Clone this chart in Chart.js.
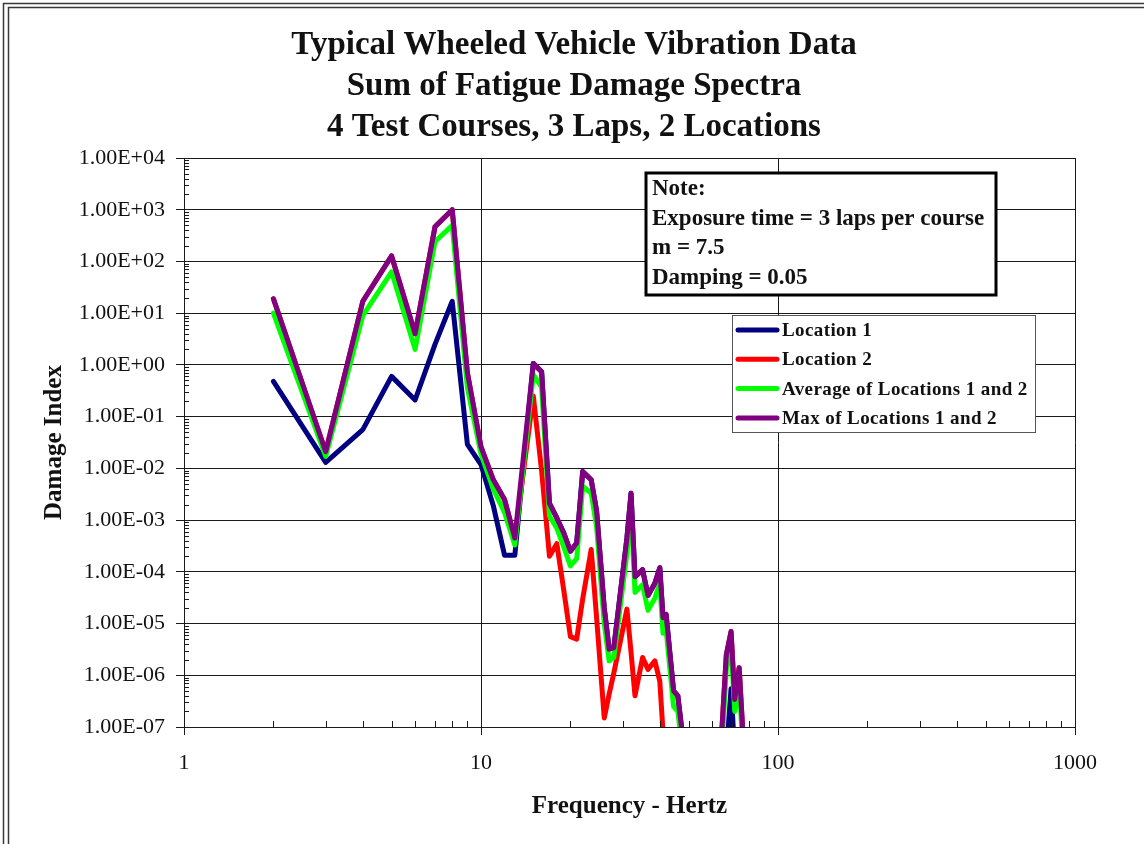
<!DOCTYPE html>
<html>
<head>
<meta charset="utf-8">
<title>Typical Wheeled Vehicle Vibration Data</title>
<script src="https://cdn.jsdelivr.net/npm/chart.js@4/dist/chart.umd.min.js"></script>
<style>
  html, body { margin: 0; padding: 0; background: #fff; }
  canvas { display: block; }
</style>
</head>
<body>
<canvas id="fds" width="1144" height="844"></canvas>
<script>
// ---- Data: fatigue damage spectra (damage index vs. frequency in Hz) ----
const frequencyHz = [2, 3, 4, 5, 6, 7, 8, 9, 10, 11, 12, 13, 15, 16, 17, 18, 19, 20, 21, 22,
  23.5, 24.5, 26, 27, 28, 31, 32, 33, 35, 36.5, 38.5, 40, 41, 42, 44.5, 46, 48, 50, 63, 64,
  67, 69.5, 71.5, 74, 76.5, 80];

const location1 = [0.48, 0.013, 0.056, 0.6, 0.21, 2.5, 17, 0.029, 0.0118, 0.0019,
  2.1e-4, 2.1e-4, 1.07, 0.74, 0.0021, 0.0011, 5.6e-4, 2.5e-4, 3.6e-4, 0.0087,
  0.006, 0.0015, 2e-5, 3.2e-6, 3.4e-6, 4.5e-4, 0.0033, 8e-5, 1.1e-4, 3.5e-5,
  6e-5, 1.2e-4, 1.3e-5, 1.5e-5, 5e-7, 4e-7, 5e-8, 1e-10, 1e-10, 1e-10,
  3e-8, 5.5e-7, 3e-8, 1e-10, 1e-10, 1e-10];

const location2 = [19, 0.021, 17, 128, 4, 470, 1000, 0.7, 0.026, 0.006,
  0.0025, 4.5e-4, 0.25, 0.009, 2e-4, 3.5e-4, 4.4e-5, 5.6e-6, 5e-6, 3e-5,
  2.7e-4, 1.3e-5, 1.5e-7, 4.3e-7, 1.1e-6, 1.9e-5, 2.8e-6, 4e-7, 2.2e-6, 1.3e-6,
  1.9e-6, 7.6e-7, 8e-8, 5e-8, 1e-10, 1e-10, 1e-10, 1e-10, 1e-10, 3e-8,
  2.5e-6, 7e-6, 3.4e-7, 1.4e-6, 5e-8, 1e-10];

const averageOfLocations = [10, 0.017, 9, 63, 2, 240, 500, 0.36, 0.019, 0.004,
  0.0014, 3.3e-4, 0.65, 0.37, 0.0012, 7e-4, 3e-4, 1.3e-4, 1.8e-4, 0.0045,
  0.0033, 7.5e-4, 1e-5, 1.9e-6, 2.2e-6, 2.3e-4, 0.0017, 4e-5, 5.6e-5, 1.8e-5,
  3.1e-5, 6e-5, 6.5e-6, 7.5e-6, 2.5e-7, 2e-7, 2.5e-8, 1e-10, 1e-10, 1.5e-8,
  1.3e-6, 3.8e-6, 2e-7, 7e-7, 2.5e-8, 1e-10];

const maxOfLocations = [19, 0.021, 17, 128, 4, 470, 1000, 0.7, 0.026, 0.006,
  0.0025, 4.5e-4, 1.07, 0.74, 0.0021, 0.0011, 5.6e-4, 2.5e-4, 3.6e-4, 0.0087,
  0.006, 0.0015, 2e-5, 3.2e-6, 3.4e-6, 4.5e-4, 0.0033, 8e-5, 1.1e-4, 3.5e-5,
  6e-5, 1.2e-4, 1.3e-5, 1.5e-5, 5e-7, 4e-7, 5e-8, 1e-10, 1e-10, 3e-8,
  2.5e-6, 7e-6, 3.4e-7, 1.4e-6, 5e-8, 1e-10];

const seriesNames = ['Location 1', 'Location 2', 'Average of Locations 1 and 2', 'Max of Locations 1 and 2'];
const seriesColors = ['#000080', '#ff0000', '#00ff00', '#800080'];

const xTickValues = [1, 10, 100, 1000];
const yTickValues = [1e-7, 1e-6, 1e-5, 1e-4, 1e-3, 1e-2, 1e-1, 1, 10, 100, 1000, 10000];

const titleLines = ['Typical Wheeled Vehicle Vibration Data', 'Sum of Fatigue Damage Spectra', '4 Test Courses, 3 Laps, 2 Locations'];
const noteLines = ['Note:', 'Exposure time = 3 laps per course', 'm = 7.5', 'Damping = 0.05'];

// ---- Styling ----
const SERIF = "'Liberation Serif', 'Times New Roman', Times, serif";
const INK = '#1a1a1a';

function sciLabel(v) {
  const e = Math.round(Math.log10(v));
  const mant = (v / Math.pow(10, e)).toFixed(2);
  return mant + 'E' + (e < 0 ? '-' : '+') + String(Math.abs(e)).padStart(2, '0');
}

function toPoints(values) {
  return frequencyHz.map((f, i) => ({ x: f, y: values[i] }));
}

const allSeries = [location1, location2, averageOfLocations, maxOfLocations];
const datasets = allSeries.map((vals, i) => ({
  label: seriesNames[i],
  data: toPoints(vals),
  borderColor: seriesColors[i],
  backgroundColor: seriesColors[i],
  borderWidth: 5,
  pointRadius: 0,
  tension: 0,
  borderJoinStyle: 'round',
  borderCapStyle: 'round',
  clip: 0,
  // Max is painted last (on top), Location 1 first
  order: 4 - i
}));

// Page frame (double rule along the top and left edges) and the three-line heading
const framePlugin = {
  id: 'pageFrame',
  beforeDraw(chart, args, opts) {
    const c = chart.ctx;
    c.save();
    c.fillStyle = '#fff';
    c.fillRect(0, 0, chart.width, chart.height);
    c.strokeStyle = '#3a3a3a';
    c.lineWidth = 1.5;
    c.beginPath();
    c.moveTo(3.5, chart.height); c.lineTo(3.5, 3.5); c.lineTo(chart.width, 3.5);
    c.moveTo(8.5, chart.height); c.lineTo(8.5, 7.5); c.lineTo(chart.width, 7.5);
    c.stroke();

    c.fillStyle = '#111';
    c.font = 'bold 33px ' + SERIF;
    c.textAlign = 'center';
    c.textBaseline = 'middle';
    titleLines.forEach((t, i) => c.fillText(t, opts.cx, opts.firstY + i * opts.row));
    c.restore();
  }
};

// Minor log ticks drawn on the inside of both axes
const minorTickPlugin = {
  id: 'minorTicks',
  afterDatasetsDraw(chart) {
    const { ctx: c, chartArea: a, scales: { x, y } } = chart;
    c.save();
    c.strokeStyle = INK;
    c.lineWidth = 1;
    c.beginPath();
    for (let d = -7; d < 4; d++) {
      for (let m = 2; m <= 9; m++) {
        const py = Math.round(y.getPixelForValue(m * Math.pow(10, d))) + 0.5;
        c.moveTo(a.left, py); c.lineTo(a.left + 5, py);
      }
    }
    for (let d = 0; d < 3; d++) {
      for (let m = 2; m <= 9; m++) {
        const px = Math.round(x.getPixelForValue(m * Math.pow(10, d))) + 0.5;
        c.moveTo(px, a.bottom); c.lineTo(px, a.bottom - 6);
      }
    }
    c.stroke();
    c.restore();
  }
};

// Note box and line legend inside the plot
const annotationPlugin = {
  id: 'noteAndLegend',
  afterDraw(chart, args, opts) {
    const c = chart.ctx;
    c.save();
    // note box
    const nb = opts.note;
    c.fillStyle = '#fff';
    c.fillRect(nb.x, nb.y, nb.w, nb.h);
    c.strokeStyle = '#000';
    c.lineWidth = 3;
    c.strokeRect(nb.x, nb.y, nb.w, nb.h);
    c.fillStyle = '#111';
    c.font = 'bold 23px ' + SERIF;
    c.textBaseline = 'middle';
    c.textAlign = 'left';
    noteLines.forEach((t, i) => c.fillText(t, nb.x + 6, nb.y + 16 + i * nb.row));

    // legend box
    const lb = opts.legend;
    c.fillStyle = '#fff';
    c.fillRect(lb.x, lb.y, lb.w, lb.h);
    c.strokeStyle = '#555';
    c.lineWidth = 1;
    c.strokeRect(lb.x + 0.5, lb.y + 0.5, lb.w, lb.h);
    c.font = 'bold 19px ' + SERIF;
    if ('letterSpacing' in c) c.letterSpacing = '0.4px';
    seriesNames.forEach((name, i) => {
      const cy = lb.y + 15 + i * lb.row;
      c.strokeStyle = seriesColors[i];
      c.lineWidth = 5;
      c.lineCap = 'round';
      c.beginPath();
      c.moveTo(lb.x + 6, cy); c.lineTo(lb.x + 45, cy);
      c.stroke();
      c.fillStyle = '#111';
      c.fillText(name, lb.x + 50, cy + 1);
    });
    c.restore();
  }
};

const axisFont = { family: SERIF, size: 22 };
const gridStyle = { color: INK, lineWidth: 1, drawTicks: true, tickLength: 8, tickColor: INK };

new Chart(document.getElementById('fds'), {
  type: 'line',
  data: { datasets },
  options: {
    responsive: false,
    animation: false,
    devicePixelRatio: 1,
    layout: { padding: { left: 40, right: 69, top: 158, bottom: 20 } },
    plugins: {
      legend: { display: false },
      tooltip: { enabled: false },
      title: { display: false },
      pageFrame: { cx: 574, firstY: 45, row: 41 },
      noteAndLegend: {
        note: { x: 646, y: 173, w: 350, h: 122, row: 29.7 },
        legend: { x: 732, y: 315, w: 303, h: 117, row: 29.3 }
      }
    },
    scales: {
      x: {
        type: 'logarithmic',
        min: 1,
        max: 1000,
        afterBuildTicks: s => { s.ticks = xTickValues.map(v => ({ value: v })); },
        afterFit: s => { s.height = 97; },
        ticks: {
          callback: v => String(v),
          color: '#111',
          font: axisFont,
          padding: 15,
          maxRotation: 0,
          autoSkip: false
        },
        grid: gridStyle,
        border: { display: true, color: INK, width: 1 },
        title: {
          display: true,
          text: 'Frequency - Hertz',
          color: '#111',
          font: { family: SERIF, size: 25, weight: 'bold' },
          padding: { top: 0, bottom: 2 }
        }
      },
      y: {
        type: 'logarithmic',
        min: 1e-7,
        max: 1e4,
        afterBuildTicks: s => { s.ticks = yTickValues.map(v => ({ value: v })); },
        afterFit: s => { s.width = 144; },
        ticks: {
          callback: v => sciLabel(v),
          color: '#111',
          font: axisFont,
          padding: 11,
          autoSkip: false
        },
        grid: gridStyle,
        border: { display: true, color: INK, width: 1 },
        title: {
          display: true,
          text: 'Damage Index',
          color: '#111',
          font: { family: SERIF, size: 25, weight: 'bold' },
          padding: { top: 0, bottom: 0 }
        }
      }
    }
  },
  plugins: [framePlugin, minorTickPlugin, annotationPlugin]
});
</script>
</body>
</html>
